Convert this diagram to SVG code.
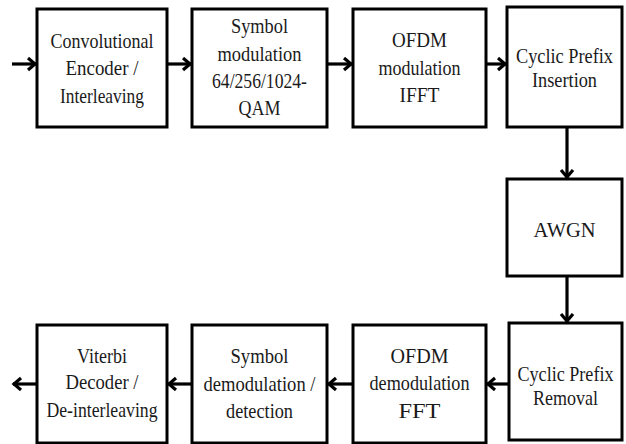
<svg xmlns="http://www.w3.org/2000/svg" width="626" height="444" viewBox="0 0 626 444">
  <style>
    .box { fill: #ffffff; stroke: #000000; stroke-width: 3; }
    .wire { stroke: #000000; stroke-width: 3.2; fill: none; marker-end: url(#chev); }
  </style>
  <defs>
    <marker id="chev" markerUnits="userSpaceOnUse" markerWidth="14" markerHeight="16" refX="10" refY="7" orient="auto">
      <path d="M2,1 L9,7 L2,13" fill="none" stroke="#000000" stroke-width="3.2"/>
    </marker>
  </defs>
  <rect width="626" height="444" fill="#ffffff"/>

  <g font-family="'Liberation Serif', serif" font-size="21" fill="#1a1a1a" text-anchor="middle">
    <!-- transmitter chain -->
    <g id="conv-encoder">
      <rect class="box" x="37" y="9" width="130" height="118"/>
      <text x="102" y="48" textLength="103" lengthAdjust="spacingAndGlyphs">Convolutional</text>
      <text x="102" y="75" textLength="73" lengthAdjust="spacingAndGlyphs">Encoder /</text>
      <text x="102" y="103" textLength="84" lengthAdjust="spacingAndGlyphs">Interleaving</text>
    </g>
    <g id="symbol-mod">
      <rect class="box" x="192" y="9" width="135" height="118"/>
      <text x="259.5" y="33" textLength="57" lengthAdjust="spacingAndGlyphs">Symbol</text>
      <text x="259.5" y="61" textLength="84" lengthAdjust="spacingAndGlyphs">modulation</text>
      <text x="259.5" y="88" textLength="95" lengthAdjust="spacingAndGlyphs">64/256/1024-</text>
      <text x="259.5" y="115" textLength="42" lengthAdjust="spacingAndGlyphs">QAM</text>
    </g>
    <g id="ofdm-mod">
      <rect class="box" x="353" y="9" width="133" height="118"/>
      <text x="419.5" y="47" textLength="55" lengthAdjust="spacingAndGlyphs">OFDM</text>
      <text x="419.5" y="75" textLength="82" lengthAdjust="spacingAndGlyphs">modulation</text>
      <text x="419.5" y="102" textLength="40" lengthAdjust="spacingAndGlyphs">IFFT</text>
    </g>
    <g id="cp-insert">
      <rect class="box" x="507" y="7" width="115" height="120"/>
      <text x="564.5" y="63" textLength="97" lengthAdjust="spacingAndGlyphs">Cyclic Prefix</text>
      <text x="564.5" y="87" textLength="65" lengthAdjust="spacingAndGlyphs">Insertion</text>
    </g>

    <!-- channel -->
    <g id="awgn">
      <rect class="box" x="507" y="179" width="115" height="97"/>
      <text x="564.5" y="237" textLength="62" lengthAdjust="spacingAndGlyphs">AWGN</text>
    </g>

    <!-- receiver chain -->
    <g id="cp-removal">
      <rect class="box" x="509" y="323" width="113" height="117"/>
      <text x="565.5" y="381" textLength="96" lengthAdjust="spacingAndGlyphs">Cyclic Prefix</text>
      <text x="565.5" y="405" textLength="65" lengthAdjust="spacingAndGlyphs">Removal</text>
    </g>
    <g id="ofdm-demod">
      <rect class="box" x="353" y="325" width="133" height="118"/>
      <text x="419.5" y="363" textLength="58" lengthAdjust="spacingAndGlyphs">OFDM</text>
      <text x="419.5" y="390" textLength="100" lengthAdjust="spacingAndGlyphs">demodulation</text>
      <text x="419.5" y="418" textLength="42" lengthAdjust="spacingAndGlyphs">FFT</text>
    </g>
    <g id="symbol-demod">
      <rect class="box" x="192" y="325" width="135" height="118"/>
      <text x="259.5" y="363" textLength="58" lengthAdjust="spacingAndGlyphs">Symbol</text>
      <text x="259.5" y="391" textLength="112" lengthAdjust="spacingAndGlyphs">demodulation /</text>
      <text x="259.5" y="418" textLength="67" lengthAdjust="spacingAndGlyphs">detection</text>
    </g>
    <g id="viterbi">
      <rect class="box" x="37" y="325" width="130" height="118"/>
      <text x="102" y="363" textLength="50" lengthAdjust="spacingAndGlyphs">Viterbi</text>
      <text x="102" y="389" textLength="73" lengthAdjust="spacingAndGlyphs">Decoder /</text>
      <text x="102" y="417" textLength="111" lengthAdjust="spacingAndGlyphs">De-interleaving</text>
    </g>
  </g>

  <g id="connectors">
    <line class="wire" x1="12" y1="64" x2="36" y2="64"/>
    <line class="wire" x1="167" y1="64" x2="191" y2="64"/>
    <line class="wire" x1="327" y1="64" x2="352" y2="64"/>
    <line class="wire" x1="486" y1="64" x2="506" y2="64"/>
    <line class="wire" x1="567" y1="127" x2="567" y2="178"/>
    <line class="wire" x1="567" y1="276" x2="567" y2="322"/>
    <line class="wire" x1="508" y1="384" x2="487" y2="384"/>
    <line class="wire" x1="353" y1="384" x2="328" y2="384"/>
    <line class="wire" x1="192" y1="384" x2="168" y2="384"/>
    <line class="wire" x1="37" y1="384" x2="13" y2="384"/>
  </g>
</svg>
